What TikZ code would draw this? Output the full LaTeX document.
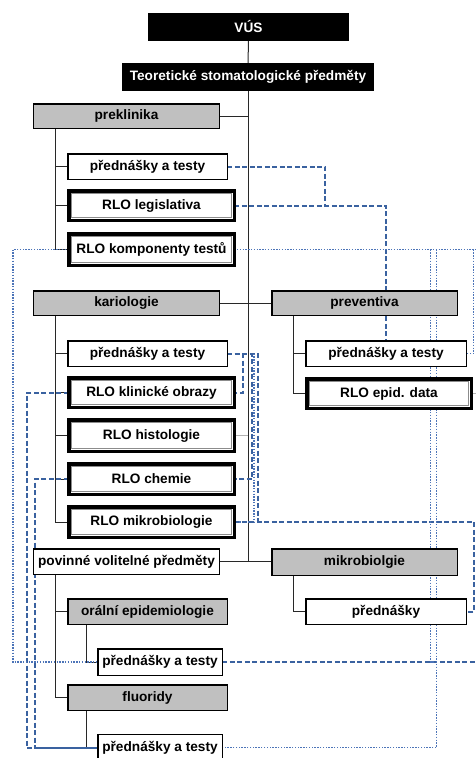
\documentclass[tikz,border=0pt]{standalone}
\usepackage{fontspec}
\setmainfont{Liberation Sans}
\usetikzlibrary{backgrounds}
\definecolor{hdrgrey}{RGB}{192,192,192}
\definecolor{treegray}{RGB}{40,40,40}
\definecolor{linkblue}{RGB}{58,98,160}
\definecolor{linkblue2}{RGB}{76,116,184}
\definecolor{rlogrey}{RGB}{140,140,140}
\begin{document}
\begin{tikzpicture}[x=1bp,y=-1bp,
  base/.style={rectangle, inner sep=0pt, outer sep=0pt, align=center,
    font=\bfseries\fontsize{13.7}{15}\selectfont},
  blk/.style={base, fill=black, draw=black, text=white, line width=1.5bp},
  hdr/.style={base, fill=hdrgrey, draw=black, line width=1.5bp},
  plain/.style={base, fill=white, draw=black, line width=1.5bp},
  rlo/.style={base, fill=white, draw=black, line width=3.5bp},
  rloinner/.style={draw=rlogrey, line width=1.3bp},
  tree/.style={draw=treegray, line width=1bp},
  faint/.style={draw=gray!60, line width=0.8bp},
  dashlink/.style={draw=linkblue, line width=2bp, dash pattern=on 5bp off 2.5bp},
  dotlink/.style={draw=linkblue2, line width=1.8bp, dash pattern=on 1.4bp off 1.4bp},
]
\useasboundingbox (0,0) rectangle (476,758);

% nodes
\node[blk, minimum width=199.5bp, minimum height=26.5bp] (vus) at (248.5,27) {VÚS};
\node[blk, minimum width=250.5bp, minimum height=26.5bp] (teo) at (248,77) {Teoretické stomatologické předměty};

\node[hdr, minimum width=185.5bp, minimum height=24.5bp] (prek) at (126.5,116) {preklinika};
\node[plain, minimum width=159.5bp, minimum height=25.5bp] (p1) at (147.5,166.5) {přednášky a testy};
\node[rlo, minimum width=165.5bp, minimum height=29.5bp] (leg) at (151.5,205.5) {RLO legislativa};
\node[rlo, minimum width=165.5bp, minimum height=31.5bp] (komp) at (151.5,249.5) {RLO komponenty testů};

\node[hdr, minimum width=185.5bp, minimum height=24.5bp] (kar) at (126.5,303) {kariologie};
\node[hdr, minimum width=185.5bp, minimum height=24.5bp] (prev) at (364.5,303) {preventiva};
\node[plain, minimum width=159.5bp, minimum height=25.5bp] (p2) at (147.5,353.5) {přednášky a testy};
\node[rlo, minimum width=165.5bp, minimum height=29.5bp] (klin) at (151.5,392.5) {RLO klinické obrazy};
\node[rlo, minimum width=165.5bp, minimum height=31.5bp] (hist) at (151.5,435.5) {RLO histologie};
\node[rlo, minimum width=165.5bp, minimum height=30.5bp] (chem) at (151.5,479) {RLO chemie};
\node[rlo, minimum width=165.5bp, minimum height=30.5bp] (mikro) at (151.5,522) {RLO mikrobiologie};
\node[plain, minimum width=160.5bp, minimum height=25.5bp] (p3) at (386,353.5) {přednášky a testy};
\node[rlo, minimum width=164.5bp, minimum height=29.5bp] (epid) at (389,393.5) {RLO epid. data};

\node[plain, minimum width=185.5bp, minimum height=25.5bp] (pov) at (126.5,561.5) {povinné volitelné předměty};
\node[hdr, minimum width=185.5bp, minimum height=26.5bp] (mikbio) at (364.5,562) {mikrobiolgie};
\node[hdr, minimum width=159.5bp, minimum height=25.5bp] (ora) at (147.5,611.5) {orální epidemiologie};
\node[plain, minimum width=124.5bp, minimum height=26.5bp] (p4) at (160,662) {přednášky a testy};
\node[plain, minimum width=160.5bp, minimum height=25.5bp] (p5) at (386,611.5) {přednášky};
\node[hdr, minimum width=159.5bp, minimum height=25.5bp] (flu) at (147.5,697.5) {fluoridy};
\node[plain, minimum width=124.5bp, minimum height=26.5bp] (p6) at (160,747.5) {přednášky a testy};

% inner grey frames of the RLO boxes
\foreach \n in {leg,komp,klin,hist,chem,mikro,epid}
  \draw[rloinner] ([shift={(2.9,2.9)}]\n.north west) rectangle ([shift={(-2.9,-2.9)}]\n.south east);

% free ends / corners
\coordinate (c325) at (325,205.5);
\coordinate (rA) at (474,0);
\coordinate (rB) at (473.5,0);
\coordinate (eR) at (477,0);
\coordinate (v430) at (430.5,0);
\coordinate (v436) at (436.5,0);

\begin{scope}[on background layer]
\fill[white] (0,0) rectangle (476,758);

% tree
\draw[tree] (vus.south) -- (teo.north);
\draw[tree] (teo.south) -- (teo.south |- pov.east);
\draw[tree] (prek.east) -- (prek.east -| teo.south);
\draw[tree] (kar.east) -- (prev.west);
\draw[tree] (pov.east) -- (pov.east -| mikbio.west);

\draw[tree] (prek.south west) ++(21.5,0) coordinate (kp) -- (kp |- komp.west) -- (komp.west);
\draw[tree] (kp |- p1.west) -- (p1.west);
\draw[tree] (kp |- leg.west) -- (leg.west);

\draw[tree] (kar.south west) ++(21.5,0) coordinate (kk) -- (kk |- mikro.west) -- (mikro.west);
\draw[tree] (kk |- p2.west) -- (p2.west);
\draw[tree] (kk |- klin.west) -- (klin.west);
\draw[tree] (kk |- hist.west) -- (hist.west);
\draw[tree] (kk |- chem.west) -- (chem.west);

\draw[tree] (prev.south west) ++(21.5,0) coordinate (kv) -- (kv |- epid.west) -- (epid.west);
\draw[tree] (kv |- p3.west) -- (p3.west);

\draw[tree] (pov.south west) ++(21.5,0) coordinate (kpv) -- (kpv |- flu.west) -- (flu.west);
\draw[tree] (kpv |- ora.west) -- (ora.west);

\draw[tree] (ora.south west) ++(19,0) coordinate (ko) |- (p4.west);
\draw[tree] (flu.south west) ++(19,0) coordinate (kf) |- (p6.west);
\draw[tree] (mikbio.south west) ++(21.5,0) coordinate (km) |- (p5.west);

\draw[faint] (hist.east) -- (hist.east -| teo.south);
\draw[faint] (epid.east) -- (epid.east -| eR);

% dashed links
\draw[dashlink] (p1.east) -| (c325);
\draw[dashlink] (leg.east) -| (p3.north);
\draw[dashlink] (p2.east) -- ++(15.5,0) |- (klin.east);
\draw[dashlink] (p2.east) -- ++(24.5,0) |- (chem.east);
\draw[dashlink] (p2.east) -- ++(30.5,0) |- (mikro.east);
\draw[dotlink] ([xshift=27bp]p2.east) |- (mikro.east);
\draw[dashlink] (mikro.east) -- (mikro.east -| rA) |- (p5.east);
\draw[dashlink] (klin.west) -- ++(-42,0) |- (p6.west);
\draw[dashlink] (chem.west) -- ++(-34,0) |- (p6.west);
\draw[dashlink] (p4.east) -- (p4.east -| eR);

% dotted links
\draw[dotlink] (komp.west) -- ++(-56,0) |- (p4.west);
\draw[dotlink] (komp.east) -- (komp.east -| eR);
\draw[dotlink] (komp.east -| rB) |- (p3.east);
\draw[dotlink] (komp.east -| v430) -- (v430 |- p4.east) -- ++(3,0);
\draw[dotlink] (komp.east -| v436) |- (p6.east);
\end{scope}
\end{tikzpicture}
\end{document}
